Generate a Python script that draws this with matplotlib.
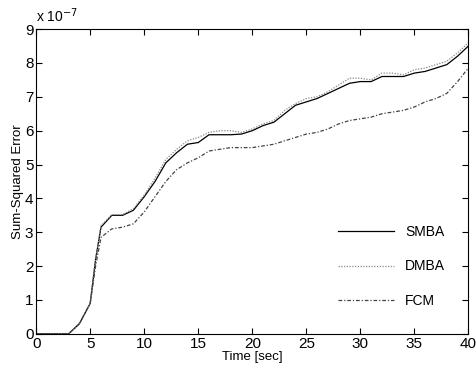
import matplotlib
matplotlib.use("Agg")
import matplotlib.pyplot as plt
import numpy as np

plt.rcParams["font.family"] = ["Liberation Sans", "DejaVu Sans"]

# time axis (sec) and sum-squared error (x 1e-7)
t = [0, 1, 2, 3, 4, 5, 5.5, 6, 7, 8, 9, 10, 11, 12, 13, 14, 15, 16, 17, 18, 19, 20,
     21, 22, 23, 24, 25, 26, 27, 28, 29, 30, 31, 32, 33, 34, 35, 36, 37, 38, 39, 40]
smba = [0, 0, 0, 0, 0.3, 0.9, 2.2, 3.15, 3.5, 3.5, 3.65, 4.05, 4.5, 5.05, 5.35, 5.6,
        5.65, 5.88, 5.88, 5.88, 5.9, 6.0, 6.15, 6.25, 6.5, 6.75, 6.85, 6.95, 7.1, 7.25,
        7.4, 7.45, 7.45, 7.6, 7.6, 7.6, 7.7, 7.75, 7.85, 7.95, 8.2, 8.5]
dmba = [0, 0, 0, 0, 0.3, 0.9, 2.2, 3.2, 3.52, 3.52, 3.7, 4.1, 4.6, 5.15, 5.45, 5.7,
        5.8, 5.95, 6.0, 6.0, 5.95, 6.05, 6.2, 6.3, 6.6, 6.8, 6.95, 7.0, 7.15, 7.35,
        7.55, 7.55, 7.5, 7.7, 7.7, 7.65, 7.8, 7.85, 7.95, 8.05, 8.3, 8.6]
fcm = [0, 0, 0, 0, 0.3, 0.9, 2.0, 2.85, 3.1, 3.15, 3.25, 3.6, 4.05, 4.5, 4.85, 5.05,
       5.2, 5.4, 5.45, 5.5, 5.5, 5.5, 5.55, 5.6, 5.7, 5.8, 5.9, 5.95, 6.05, 6.2,
       6.3, 6.35, 6.4, 6.5, 6.55, 6.6, 6.7, 6.85, 6.95, 7.1, 7.45, 7.85]

fig = plt.figure(figsize=(4.76, 3.73), dpi=100)
ax = fig.add_axes([0.076, 0.105, 0.908, 0.817])

ax.plot(t, smba, color="black", lw=0.9, label="SMBA")
ax.plot(t, dmba, color="#888888", lw=0.9, linestyle=(0, (1, 1.2)), label="DMBA")
ax.plot(t, fcm, color="#444444", lw=0.9, linestyle=(0, (3, 1.5, 1, 1.5)), label="FCM")

ax.set_xlim(0, 40)
ax.set_ylim(0, 9)
ax.set_xticks(np.arange(0, 41, 5))
ax.set_yticks(np.arange(0, 10, 1))
ax.tick_params(direction="in", top=True, right=True, labelsize=11, length=4, pad=2)
ax.set_xlabel("Time [sec]", fontsize=9.5, labelpad=0)
ax.set_ylabel("Sum-Squared Error", fontsize=9.5, labelpad=1)
ax.text(0.0, 1.012, "x 10$^{-7}$", transform=ax.transAxes, fontsize=10,
        ha="left", va="bottom")

ax.legend(loc="lower right", bbox_to_anchor=(0.975, 0.045), frameon=False,
          fontsize=10, labelspacing=1.45, handlelength=4.0, handletextpad=0.8)

fig.savefig("out.png", dpi=100)
